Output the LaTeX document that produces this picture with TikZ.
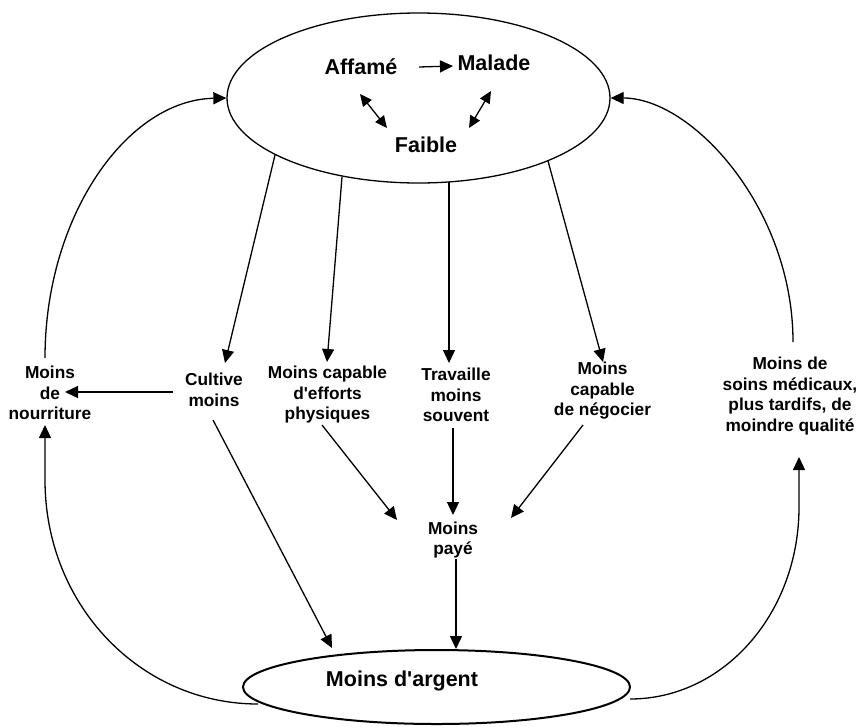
\documentclass[tikz,border=0pt]{standalone}
\usepackage{fontspec}
\setmainfont{Liberation Sans}
\usetikzlibrary{arrows.meta,shapes.geometric}
\begin{document}
\begin{tikzpicture}[x=1pt,y=-1pt,
  lbl/.style={font=\bfseries\fontsize{17.3}{20.5}\selectfont, align=center, inner sep=0pt},
  big/.style={font=\bfseries\fontsize{21.5}{24}\selectfont, inner sep=0pt},
  conn/.style={line width=1.3pt, -{Triangle[length=13pt,width=12pt]}},
  dconn/.style={line width=1.3pt, {Triangle[length=12pt,width=11pt]}-{Triangle[length=12pt,width=11pt]}},
  bubble/.style={ellipse, draw, line width=1.3pt, inner sep=0pt}]
\useasboundingbox (0,0) rectangle (858,726);
% top ellipse
\node[bubble, minimum width=383pt, minimum height=170pt] (top) at (418.5,98) {};
\node[big] (affame) at (361,67) {Affamé};
\node[big] (malade) at (494,63) {Malade};
\node[big] (faible) at (426,145) {Faible};
\coordinate (am1) at (419,67);
\coordinate (am2) at (453,66);
\draw[conn] (am1) -- (am2);
\coordinate (af1) at (360,94);
\coordinate (af2) at (387,128);
\draw[dconn] (af1) -- (af2);
\coordinate (mf1) at (491,91);
\coordinate (mf2) at (469,128);
\draw[dconn] (mf1) -- (mf2);
% bottom ellipse
\node[bubble, line width=2pt, minimum width=387pt, minimum height=74pt] (bot) at (436.5,687) {};
\node[big] (argent) at (402,681) {Moins d\textquotesingle argent};
% labels
\node[lbl] (nour) at (50,393) {Moins\\de\\nourriture};
\node[lbl] (cult) at (214,390) {Cultive\\moins};
\node[lbl] (effo) at (327.5,395) {Moins capable\\d\textquotesingle efforts\\physiques};
\node[lbl] (trav) at (456,395) {Travaille\\moins\\souvent};
\node[lbl] (nego) at (602.5,391) {Moins\\capable\\de négocier};
\node[lbl] (soin) at (790,396) {Moins de\\soins médicaux,\\plus tardifs, de\\moindre qualité};
\node[lbl] (paye) at (453,540) {Moins\\payé};
% coordinates on ellipses
\coordinate (t1) at (275,155);
\coordinate (t2) at (342,177);
\coordinate (t3) at (449,182);
\coordinate (t4) at (548,161);
\coordinate (cultN) at (225,363);
\coordinate (effoN) at (327,362);
\coordinate (travN) at (449,363);
\coordinate (negoN) at (603,362);
\draw[conn] (t1) -- (cultN);
\draw[conn] (t2) -- (effoN);
\draw[conn] (t3) -- (travN);
\draw[conn] (t4) -- (negoN);
% middle connectors
\coordinate (cultW) at (173,392);
\coordinate (nourE) at (65,392);
\draw[conn] (cultW) -- (nourE);
\coordinate (cultS) at (213,420);
\coordinate (botA) at (332,648);
\draw[conn] (cultS) -- (botA);
\coordinate (effoS) at (322,425);
\coordinate (payeW) at (397,520);
\draw[conn] (effoS) -- (payeW);
\coordinate (travS) at (453,428);
\coordinate (payeN) at (453,515);
\draw[conn] (travS) -- (payeN);
\coordinate (negoS) at (583,425);
\coordinate (payeE) at (511,518);
\draw[conn] (negoS) -- (payeE);
\coordinate (payeS) at (456,559);
\coordinate (botB) at (456,649);
\draw[conn] (payeS) -- (botB);
% loops
\coordinate (nourN) at (45,358);
\draw[conn] (nourN) .. controls (45,216) and (127,100) .. (top.west);
\coordinate (soinN) at (793,342);
\draw[conn] (soinN) .. controls (793,208) and (692,98) .. (top.east);
\coordinate (botW) at (258,704);
\coordinate (nourS) at (45,425);
\draw[conn] (botW) .. controls (140,704) and (45,605) .. (45,480) -- (nourS);
\coordinate (botE) at (630,699);
\coordinate (soinS) at (799,457);
\draw[conn] (botE) .. controls (724,699) and (799,613) .. (799,507) -- (soinS);
\end{tikzpicture}
\end{document}
